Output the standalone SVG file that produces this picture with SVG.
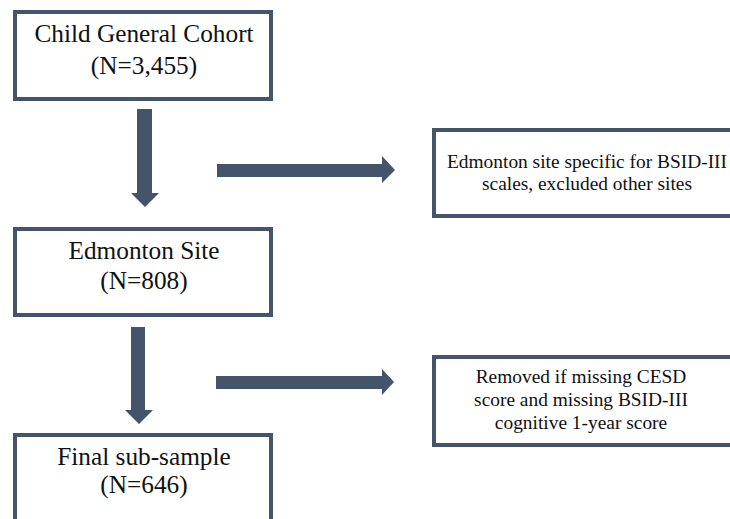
<svg xmlns="http://www.w3.org/2000/svg" width="730" height="519" viewBox="0 0 730 519">
<style>
.box{fill:#fff;stroke:#44546A;stroke-width:4}
.arrow{fill:#44546A}
.t{font-family:"Liberation Serif","Times New Roman",serif;fill:#111;text-anchor:middle}
.big{font-size:25.3px}
.small{font-size:19.4px}
</style>
<rect width="730" height="519" fill="#fff"/>
<g id="connectors">
<polygon class="arrow" points="137,109 152,109 152,193 159,193 145,207 131,193 137,193"/>
<polygon class="arrow" points="131,327 145,327 145,410 153,410 139,424 125,410 131,410"/>
<polygon class="arrow" points="217,164 382,164 382,156 395,170 382,183 382,177 217,177"/>
<polygon class="arrow" points="216,376 382,376 382,369 394,382 382,395 382,389 216,389"/>
</g>
<g id="cohort">
<rect class="box" x="15" y="12" width="256" height="87"/>
<text class="t big" x="144" y="42">Child General Cohort</text>
<text class="t big" x="144" y="74">(N=3,455)</text>
</g>
<g id="edmonton">
<rect class="box" x="15" y="229" width="256" height="86"/>
<text class="t big" x="144" y="259">Edmonton Site</text>
<text class="t big" x="144" y="289">(N=808)</text>
</g>
<g id="final">
<rect class="box" x="15" y="435" width="256" height="100"/>
<text class="t big" x="144" y="465">Final sub-sample</text>
<text class="t big" x="144" y="493">(N=646)</text>
</g>
<g id="exclusion1">
<rect class="box" x="434" y="130" width="308" height="86"/>
<text class="t small" x="587" y="168">Edmonton site specific for BSID-III</text>
<text class="t small" x="587" y="190">scales, excluded other sites</text>
</g>
<g id="exclusion2">
<rect class="box" x="434" y="357" width="300" height="88"/>
<text class="t small" x="581" y="383">Removed if missing CESD</text>
<text class="t small" x="581" y="406">score and missing BSID-III</text>
<text class="t small" x="581" y="429">cognitive 1-year score</text>
</g>
</svg>
